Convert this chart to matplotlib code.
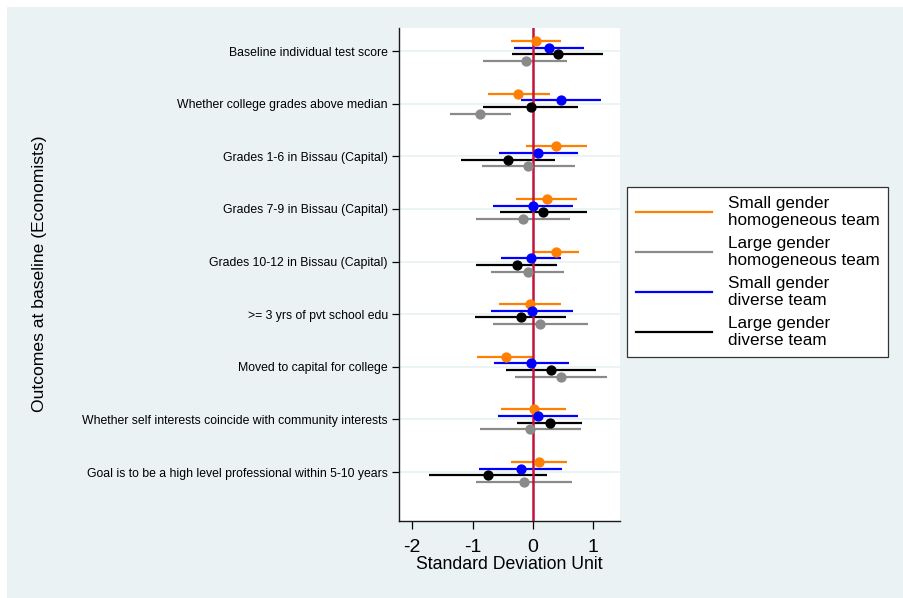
import matplotlib
matplotlib.use("Agg")
import matplotlib.pyplot as plt
from matplotlib.patches import Rectangle
from matplotlib.lines import Line2D

plt.rcParams['font.family'] = ['Liberation Sans', 'DejaVu Sans']

categories = [
    "Baseline individual test score",
    "Whether college grades above median",
    "Grades 1-6 in Bissau (Capital)",
    "Grades 7-9 in Bissau (Capital)",
    "Grades 10-12 in Bissau (Capital)",
    ">= 3 yrs of pvt school edu",
    "Moved to capital for college",
    "Whether self interests coincide with community interests",
    "Goal is to be a high level professional within 5-10 years",
]

series_names = [
    "Small gender\nhomogeneous team",
    "Large gender\nhomogeneous team",
    "Small gender\ndiverse team",
    "Large gender\ndiverse team",
]

# point estimates
small_homo = [0.055, -0.24, 0.385, 0.225, 0.39, -0.055, -0.45, 0.01, 0.10]
large_homo = [-0.12, -0.87, -0.08, -0.165, -0.09, 0.125, 0.47, -0.045, -0.155]
small_div = [0.26, 0.46, 0.09, 0.005, -0.04, -0.02, -0.03, 0.09, -0.205]
large_div = [0.41, -0.04, -0.41, 0.17, -0.265, -0.20, 0.30, 0.275, -0.745]

# confidence interval bounds
small_homo_lo = [-0.36, -0.75, -0.12, -0.28, 0.02, -0.56, -0.92, -0.535, -0.36]
small_homo_hi = [0.46, 0.28, 0.89, 0.73, 0.76, 0.46, 0.005, 0.555, 0.56]
large_homo_lo = [-0.82, -1.38, -0.85, -0.94, -0.69, -0.66, -0.29, -0.87, -0.95]
large_homo_hi = [0.57, -0.36, 0.69, 0.61, 0.52, 0.91, 1.23, 0.79, 0.65]
small_div_lo = [-0.31, -0.20, -0.57, -0.66, -0.535, -0.69, -0.645, -0.585, -0.89]
small_div_hi = [0.84, 1.13, 0.74, 0.66, 0.46, 0.66, 0.59, 0.755, 0.48]
large_div_lo = [-0.34, -0.82, -1.19, -0.55, -0.94, -0.965, -0.45, -0.265, -1.73]
large_div_hi = [1.16, 0.74, 0.36, 0.89, 0.40, 0.555, 1.05, 0.82, 0.24]

xticks = [-2, -1, 0, 1]

colors = ["#FF7F00", "#8A8A8A", "#0000FF", "#000000"]
# vertical order within each row (top to bottom): small homo, small div, large div, large homo
row_slot = [-1.5, 1.5, -0.5, 0.5]
slot_step = 0.1267

bg = "#EAF2F3"

fig = plt.figure(figsize=(9.04, 5.98), dpi=100, facecolor="white")
fig.patches.append(Rectangle((7 / 904, 0), 1 - 7 / 904, 1 - 7 / 598,
                             transform=fig.transFigure, facecolor=bg,
                             edgecolor="none", zorder=-10))

ax = fig.add_axes([399 / 904, 1 - 521 / 598, (620 - 399) / 904, (521 - 28) / 598])
ax.set_zorder(1)
ax.set_facecolor("white")

pos = list(range(1, len(categories) + 1))
data = [
    (small_homo, small_homo_lo, small_homo_hi),
    (large_homo, large_homo_lo, large_homo_hi),
    (small_div, small_div_lo, small_div_hi),
    (large_div, large_div_lo, large_div_hi),
]

for (est, lo, hi), col, slot in zip(data, colors, row_slot):
    ys = [p + slot * slot_step for p in pos]
    ax.hlines(ys, lo, hi, colors=col, lw=1.6, zorder=2)
    ax.plot(est, ys, 'o', color=col, ms=6.4, mec=col, zorder=4)

ax.axvline(0, color="#C4133F", lw=1.8, zorder=3)

ax.set_xlim(-2.22, 1.443)
ax.set_ylim(9.93, 0.563)
ax.set_yticks(pos)
ax.set_yticklabels(categories, fontsize=8.85)
ax.set_xticks(xticks)
ax.set_xticklabels([str(t) for t in xticks], fontsize=14)
ax.tick_params(axis='y', length=5, width=0.9, pad=3)
ax.tick_params(axis='x', length=6, width=0.9, pad=7)
ax.grid(axis='y', color=bg, lw=1.3, zorder=1)
ax.set_axisbelow(True)
for s in ["top", "right"]:
    ax.spines[s].set_visible(False)
for s in ["left", "bottom"]:
    ax.spines[s].set_linewidth(1.0)
    ax.spines[s].set_color("#1a1a1a")

ax.set_xlabel("Standard Deviation Unit", fontsize=12.7, labelpad=0)
fig.text(40 / 904, 1 - 274 / 598, "Outcomes at baseline (Economists)", rotation=90,
         fontsize=12.6, ha="center", va="center")

handles = [Line2D([], [], color=c, lw=1.6) for c in colors]
leg = fig.legend(handles, series_names, loc="upper left",
                 bbox_to_anchor=(627 / 904, 1 - 187 / 598), fontsize=12.3,
                 frameon=True, fancybox=False, edgecolor="#333333", framealpha=1,
                 facecolor="white",
                 handlelength=4.5, handletextpad=0.9, labelspacing=0.45,
                 borderpad=0.5, borderaxespad=0)
leg.get_frame().set_linewidth(0.9)
leg.set_zorder(2)

fig.savefig("out.png", dpi=100, facecolor=fig.get_facecolor())
